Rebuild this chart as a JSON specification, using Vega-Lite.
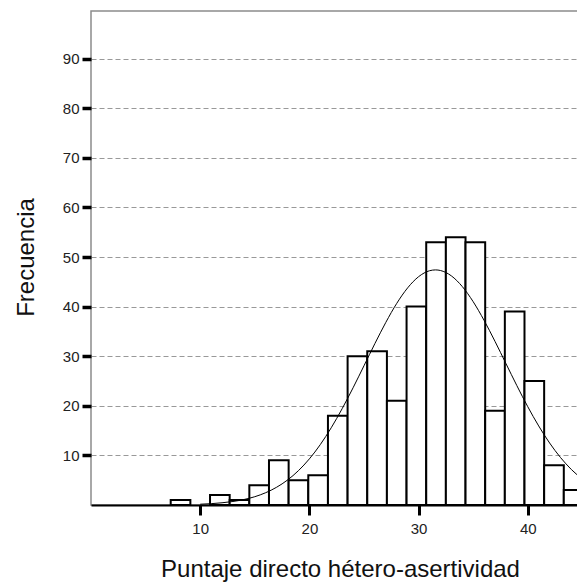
{
  "$schema": "https://vega.github.io/schema/vega-lite/v6.json",
  "autosize": {"type": "none"},
  "padding": {"left": 91, "top": 11, "right": 0, "bottom": 79},
  "width": 487,
  "height": 494,
  "background": "white",
  "config": {
    "font": "Liberation Sans",
    "view": {"stroke": "#8c8c8c", "strokeWidth": 1.5}
  },
  "datasets": {
    "bars": [
      {"x": 7.3, "x_end": 9.1, "y": 1},
      {"x": 10.9, "x_end": 12.7, "y": 2},
      {"x": 12.7, "x_end": 14.5, "y": 1},
      {"x": 14.5, "x_end": 16.3, "y": 4},
      {"x": 16.3, "x_end": 18.1, "y": 9},
      {"x": 18.1, "x_end": 19.9, "y": 5},
      {"x": 19.9, "x_end": 21.7, "y": 6},
      {"x": 21.7, "x_end": 23.5, "y": 18},
      {"x": 23.5, "x_end": 25.3, "y": 30},
      {"x": 25.3, "x_end": 27.1, "y": 31},
      {"x": 27.1, "x_end": 28.9, "y": 21},
      {"x": 28.9, "x_end": 30.7, "y": 40},
      {"x": 30.7, "x_end": 32.5, "y": 53},
      {"x": 32.5, "x_end": 34.3, "y": 54},
      {"x": 34.3, "x_end": 36.1, "y": 53},
      {"x": 36.1, "x_end": 37.9, "y": 19},
      {"x": 37.9, "x_end": 39.7, "y": 39},
      {"x": 39.7, "x_end": 41.5, "y": 25},
      {"x": 41.5, "x_end": 43.3, "y": 8},
      {"x": 43.3, "x_end": 45.1, "y": 3}
    ],
    "curve": [
      {"x": 10, "y": 0.16}, {"x": 11, "y": 0.27}, {"x": 12, "y": 0.45},
      {"x": 13, "y": 0.71}, {"x": 14, "y": 1.10}, {"x": 15, "y": 1.67},
      {"x": 16, "y": 2.48}, {"x": 17, "y": 3.58}, {"x": 18, "y": 5.04},
      {"x": 19, "y": 6.93}, {"x": 20, "y": 9.30}, {"x": 21, "y": 12.18},
      {"x": 22, "y": 15.57}, {"x": 23, "y": 19.42}, {"x": 24, "y": 23.63},
      {"x": 25, "y": 28.07}, {"x": 26, "y": 32.55}, {"x": 27, "y": 36.82},
      {"x": 28, "y": 40.65}, {"x": 29, "y": 43.78}, {"x": 30, "y": 46.03},
      {"x": 31, "y": 47.23}, {"x": 31.55, "y": 47.4}, {"x": 32, "y": 47.28},
      {"x": 33, "y": 46.20}, {"x": 34, "y": 44.05}, {"x": 35, "y": 40.99},
      {"x": 36, "y": 37.22}, {"x": 37, "y": 32.99}, {"x": 38, "y": 28.52},
      {"x": 39, "y": 24.07}, {"x": 40, "y": 19.82}, {"x": 41, "y": 15.94},
      {"x": 42, "y": 12.50}, {"x": 43, "y": 9.57}, {"x": 44, "y": 7.14},
      {"x": 45, "y": 5.21}
    ]
  },
  "encoding": {
    "x": {
      "field": "x", "type": "quantitative",
      "scale": {"domain": [0, 44.6], "nice": false, "zero": false},
      "axis": {
        "values": [10, 20, 30, 40],
        "grid": false,
        "domainColor": "#000", "domainWidth": 2,
        "tickColor": "#000", "tickWidth": 3, "tickSize": 10,
        "labelFontSize": 15, "labelColor": "#222", "labelPadding": 6,
        "title": "Puntaje directo hétero-asertividad",
        "titleFontSize": 24, "titleFontWeight": "normal", "titleColor": "#111",
        "titleBaseline": "alphabetic", "titleX": 249, "titleY": 71
      }
    },
    "y": {
      "field": "y", "type": "quantitative",
      "scale": {"domain": [0, 99.6], "nice": false},
      "axis": {
        "values": [10, 20, 30, 40, 50, 60, 70, 80, 90],
        "grid": true, "gridDash": [5, 3], "gridColor": "#999", "gridWidth": 1,
        "domain": false,
        "tickColor": "#000", "tickWidth": 3.5, "tickSize": 9,
        "labelFontSize": 15, "labelColor": "#222", "labelPadding": 3,
        "title": "Frecuencia",
        "titleFontSize": 24, "titleFontWeight": "normal", "titleColor": "#111",
        "titleBaseline": "alphabetic", "titleX": -58, "titleY": 246
      }
    }
  },
  "layer": [
    {
      "data": {"name": "bars"},
      "mark": {"type": "rect", "fill": "white", "stroke": "black", "strokeWidth": 2, "clip": true},
      "encoding": {
        "x2": {"field": "x_end"},
        "y2": {"datum": 0}
      }
    },
    {
      "data": {"name": "curve"},
      "mark": {"type": "line", "stroke": "black", "strokeWidth": 1, "interpolate": "monotone", "clip": true},
      "encoding": {}
    }
  ]
}
